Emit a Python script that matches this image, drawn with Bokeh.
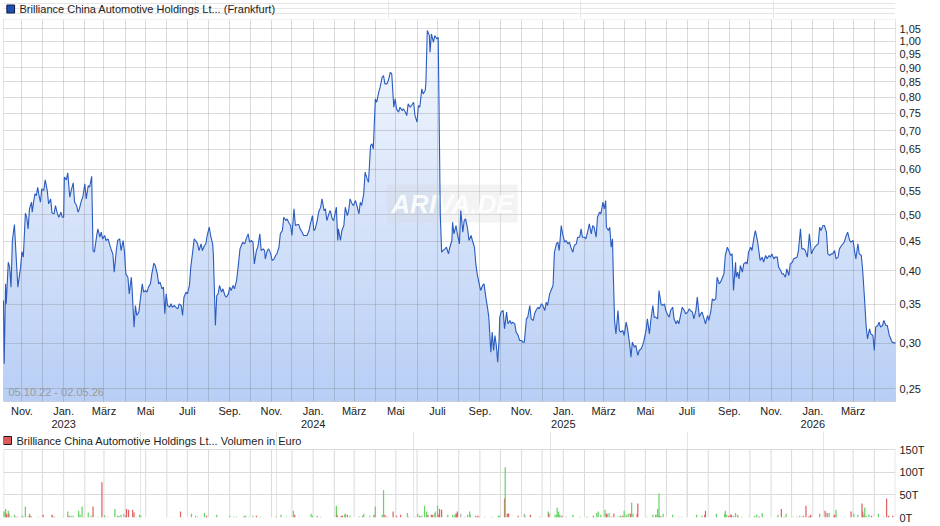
from datetime import date
import numpy as np
from bokeh.plotting import figure
from bokeh.models import (Range1d, FixedTicker, LinearAxis, CustomJSTickFormatter, Label)
from bokeh.layouts import column
from bokeh.embed import file_html
from bokeh.resources import INLINE
from bokeh.core.properties import value

START = date(2022, 10, 5)
END = date(2026, 5, 2)
N_DAYS = (END - START).days

# ---- price (EUR), x = days since 05.10.2022 ----
price_day = [
    0, 1, 3, 4, 7, 9, 11, 13, 16, 18, 21, 25, 27, 29, 32, 34, 36, 38, 41, 42, 44, 46, 48, 50, 52, 54, 56, 59,
    61, 64, 66, 69, 71, 74, 76, 79, 81, 84, 86, 88, 89, 92, 94, 97, 99, 102, 104, 107, 109, 111, 114, 116,
    119, 121, 124, 126, 129, 131, 133, 136, 138, 141, 143, 145, 148, 150, 153, 155, 158, 160, 162, 165, 167,
    170, 172, 175, 177, 179, 182, 184, 187, 188, 191, 193, 195, 198, 200, 203, 205, 208, 210, 212, 215, 217,
    220, 222, 225, 227, 229, 232, 234, 236, 238, 240, 243, 245, 247, 250, 252, 255, 257, 260, 262, 264, 267,
    269, 272, 274, 277, 279, 281, 284, 286, 289, 291, 294, 296, 298, 301, 303, 306, 307, 310, 312, 314, 316,
    319, 321, 324, 326, 329, 331, 333, 336, 338, 341, 343, 346, 348, 350, 353, 355, 358, 360, 363, 365, 367,
    370, 372, 375, 377, 380, 382, 383, 386, 388, 391, 393, 396, 398, 400, 403, 405, 408, 410, 413, 415, 417,
    420, 422, 425, 427, 430,
    432, 434, 437, 439, 444, 447, 449, 452, 454, 456, 459, 461, 464, 466, 469, 471, 473, 476, 478, 481, 483,
    486, 487, 489, 490, 493, 495, 498, 500, 503, 505, 507, 510, 512, 515, 517, 520, 522, 524, 527, 529, 532,
    534, 537, 539, 541, 544, 546, 549, 551, 554, 556, 558, 561, 563, 566, 568, 571, 573, 575, 578, 580, 583,
    585, 588, 590, 592, 595, 597, 600, 602, 605, 607, 609, 612, 614, 617, 618, 620, 623, 624, 626, 629, 631,
    634, 636, 639, 641, 643, 646, 648, 651, 653, 656, 657, 659, 662, 664, 667, 669, 672, 674, 676, 679, 681,
    684, 686, 689, 691, 693, 696, 698, 701, 703, 706, 708, 710, 713, 715, 717, 719, 721, 723, 725, 726, 728,
    731, 733, 736, 738, 741, 743, 745, 748, 750, 753, 755, 758, 760, 762, 765, 767, 770, 772, 775, 777, 779,
    782, 784, 787, 789, 792, 794, 796, 799, 801, 804, 806, 809, 811, 813, 816, 818, 821, 823, 826, 828, 830,
    833, 835, 838, 840, 843, 845, 847, 850, 852, 855, 857, 860, 862, 864, 867, 869,
    872, 874, 877, 879, 881, 882, 885, 887, 889, 891, 892, 894, 896, 899, 901, 903, 906, 908, 911, 913, 916,
    918, 920, 923, 925, 928, 930, 933, 935, 937, 940, 942, 945, 947, 950, 952, 954, 957, 959, 962, 964, 967,
    969, 971, 974, 976, 979, 981, 984, 986, 988, 991, 993, 996, 998, 1001, 1003, 1005, 1008, 1010, 1013,
    1015, 1018, 1020, 1022, 1025, 1027, 1030, 1032, 1035, 1037, 1039, 1042, 1044, 1047, 1049, 1052, 1054,
    1056, 1059, 1061, 1064, 1066, 1068, 1071, 1072, 1074, 1076, 1078, 1081, 1083, 1086, 1088, 1090, 1093,
    1095, 1098, 1100, 1103, 1105, 1107, 1110, 1112, 1115, 1117, 1120, 1122, 1124, 1127, 1129, 1132, 1134,
    1137, 1139, 1141, 1144, 1146, 1149, 1151, 1154, 1156, 1161, 1163, 1166, 1168, 1171, 1173, 1176, 1178,
    1179, 1182, 1184, 1187, 1189, 1192, 1194, 1196, 1199, 1201, 1204, 1206, 1209, 1211, 1213, 1216, 1218,
    1221, 1223, 1226, 1228, 1230, 1233, 1235, 1238, 1240, 1243, 1245, 1247, 1250, 1252, 1255, 1257, 1260,
    1262, 1264, 1267, 1269, 1272, 1274, 1276, 1279, 1281, 1283, 1286, 1288, 1291, 1293, 1296, 1298, 1300,
    1305,
]
price_eur = [
    0.3556, 0.2763, 0.3800, 0.3509, 0.4142, 0.4061, 0.3750, 0.4516, 0.4813, 0.4339, 0.3750, 0.4061, 0.4322,
    0.4226, 0.5036, 0.4956, 0.4731, 0.5123, 0.5261, 0.5056, 0.5261, 0.5439, 0.5403, 0.5585, 0.5403, 0.5261,
    0.5548, 0.5512, 0.5751, 0.5512, 0.5226, 0.5331, 0.5042, 0.5022, 0.5192, 0.5022, 0.4956, 0.5056, 0.4956,
    0.4956, 0.5814, 0.5751, 0.5913, 0.5367, 0.5512, 0.5682, 0.5261, 0.5192, 0.5056, 0.5123, 0.5296, 0.5367,
    0.5660, 0.5331, 0.5622, 0.5585, 0.5835, 0.4339, 0.4311, 0.4576, 0.4731, 0.4576, 0.4668, 0.4546, 0.4607,
    0.4516, 0.4546, 0.4456, 0.4339, 0.4282, 0.3981, 0.4339, 0.4516, 0.4546, 0.4339, 0.4516, 0.4311, 0.3954,
    0.3902, 0.3651, 0.3902, 0.3750, 0.3197, 0.3485, 0.3349, 0.3394, 0.3556, 0.3800, 0.3676, 0.3700, 0.3676,
    0.3750, 0.3800, 0.3954, 0.4126, 0.4088, 0.3954, 0.3800, 0.3825, 0.3725, 0.3750, 0.3372, 0.3651, 0.3485,
    0.3462, 0.3509, 0.3462, 0.3485, 0.3462, 0.3439, 0.3509, 0.3485, 0.3349, 0.3603, 0.3676, 0.3651, 0.3775,
    0.4061, 0.4339, 0.4546, 0.4516, 0.4456, 0.4339, 0.4456, 0.4339, 0.4427, 0.4456, 0.4607, 0.4762, 0.4607,
    0.4456, 0.4282, 0.3218, 0.3627, 0.3651, 0.3775, 0.3676, 0.3725, 0.3627, 0.3603, 0.3651, 0.3750, 0.3700,
    0.3775, 0.3725, 0.3851, 0.4034, 0.4368, 0.4427, 0.4486, 0.4456, 0.4546, 0.4637, 0.4486, 0.4516, 0.4486,
    0.4115, 0.4339, 0.4397, 0.4637, 0.4339, 0.4368, 0.4339, 0.4198, 0.4339, 0.4368, 0.4282, 0.4170, 0.4198,
    0.4254, 0.4282, 0.4397, 0.4637, 0.4699, 0.4956, 0.4890, 0.4923, 0.4858, 0.4794, 0.4607, 0.5123, 0.4794,
    0.4813,
    0.4813, 0.4731, 0.4668, 0.4607, 0.4607, 0.4699, 0.4826, 0.4989, 0.4699, 0.4731, 0.4890, 0.5056, 0.5157,
    0.5331, 0.5089, 0.5123, 0.4890, 0.5022, 0.5089, 0.4923, 0.4890, 0.5089, 0.5157, 0.4516, 0.4731, 0.4516,
    0.4699, 0.4794, 0.5157, 0.4989, 0.5089, 0.5331, 0.5226, 0.5192, 0.5296, 0.5192, 0.5022, 0.5261, 0.5192,
    0.5439, 0.5929, 0.5774, 0.5697, 0.6595, 0.6639, 0.6508, 0.7943, 0.7838, 0.8157, 0.8321, 0.8659, 0.8717,
    0.8432, 0.8432, 0.8545, 0.8833, 0.8775, 0.7683, 0.7943, 0.7632, 0.7532, 0.7683, 0.7582, 0.7632, 0.7532,
    0.7432, 0.7786, 0.7683, 0.7735, 0.7838, 0.7432, 0.7238, 0.7735, 0.7683, 0.8266, 0.8103, 0.8211, 0.8488,
    1.0429, 1.0223, 0.9566, 1.0291, 0.9955, 1.0223, 1.0088, 1.0155, 0.5022, 0.4311, 0.4339, 0.4368, 0.4397,
    0.4282, 0.4397, 0.4516, 0.4858, 0.4637, 0.4794, 0.4637, 0.4456, 0.5089, 0.4668, 0.4890, 0.4923, 0.4731,
    0.4516, 0.4607, 0.4516, 0.4397, 0.4115, 0.3954, 0.3800, 0.3700, 0.3775, 0.3800, 0.3579, 0.3462, 0.3327,
    0.2894, 0.3134, 0.2913, 0.3093, 0.2972, 0.2781, 0.3032, 0.3327, 0.3394, 0.3417, 0.3176, 0.3394, 0.3240,
    0.3283, 0.3240, 0.3261, 0.3240, 0.3134, 0.3093, 0.3032, 0.3032, 0.3012, 0.3012, 0.3305, 0.3327, 0.3485,
    0.3305, 0.3283, 0.3372, 0.3417, 0.3462, 0.3439, 0.3509, 0.3485, 0.3417, 0.3532, 0.3485, 0.3651, 0.3700,
    0.3775, 0.4311, 0.4456, 0.4486, 0.4339, 0.4794, 0.4637, 0.4486, 0.4516, 0.4456, 0.4486, 0.4397, 0.4311,
    0.4427, 0.4456, 0.4576, 0.4576, 0.4731, 0.4576, 0.4576, 0.4546, 0.4699, 0.4826, 0.4637, 0.4794, 0.4762,
    0.4576, 0.4956,
    0.5056, 0.5022, 0.5261, 0.5123, 0.5296, 0.4762, 0.4699, 0.4762, 0.4397, 0.4546, 0.4007, 0.3283, 0.3113,
    0.3417, 0.3155, 0.3134, 0.3155, 0.3093, 0.3261, 0.3176, 0.2992, 0.2837, 0.3012, 0.2952, 0.2972, 0.2856,
    0.2913, 0.2933, 0.2972, 0.3032, 0.3155, 0.3305, 0.3113, 0.3283, 0.3485, 0.3327, 0.3327, 0.3305, 0.3700,
    0.3509, 0.3485, 0.3509, 0.3417, 0.3372, 0.3327, 0.3417, 0.3462, 0.3305, 0.3240, 0.3283, 0.3240, 0.3372,
    0.3462, 0.3417, 0.3372, 0.3394, 0.3439, 0.3417, 0.3394, 0.3305, 0.3417, 0.3603, 0.3327, 0.3372, 0.3394,
    0.3305, 0.3240, 0.3349, 0.3283, 0.3417, 0.3579, 0.3556, 0.3579, 0.3902, 0.3800, 0.3825, 0.3902, 0.3954,
    0.4254, 0.4397, 0.4339, 0.4254, 0.4282, 0.3700, 0.4142, 0.3902, 0.3981, 0.3876, 0.4088, 0.3981, 0.4115,
    0.4142, 0.4115, 0.4311, 0.4397, 0.4339, 0.4576, 0.4699, 0.4516, 0.4339, 0.4170, 0.4226, 0.4142, 0.4254,
    0.4198, 0.4254, 0.4226, 0.4282, 0.4198, 0.4226, 0.4226, 0.4061, 0.4007, 0.3954, 0.3954, 0.3902, 0.4034,
    0.3928, 0.4115, 0.4142, 0.4198, 0.4226, 0.4339, 0.4731, 0.4368, 0.4368, 0.4339, 0.4226, 0.4486, 0.4637,
    0.4282, 0.4339, 0.4397, 0.4427, 0.4456, 0.4762, 0.4699, 0.4794, 0.4794, 0.4668, 0.4282, 0.4254, 0.4282,
    0.4282, 0.4339, 0.4198, 0.4226, 0.4368, 0.4427, 0.4456, 0.4486, 0.4607, 0.4668, 0.4516, 0.4486, 0.4516,
    0.4339, 0.4198, 0.4456, 0.4282, 0.4254, 0.4007, 0.3532, 0.3218, 0.3052, 0.3176, 0.3113, 0.3093, 0.2913,
    0.3197, 0.3218, 0.3261, 0.3197, 0.3218, 0.3283, 0.3218, 0.3218, 0.3093, 0.3052, 0.3012, 0.3000,
]

# ---- volume (thousand EUR); direction u = up day, d = down day, g = unchanged ----
vol_day = [
    0, 1, 3, 4, 5, 7, 8, 11, 16, 18, 21, 27, 29, 32, 36, 38, 39, 41, 51, 58, 71, 72, 75, 87, 94, 96, 99, 102,
    110, 112, 115, 118, 124, 128, 131, 138, 144, 148, 153, 163, 167, 169, 172, 176, 179, 180, 183, 189, 191,
    194, 199, 201, 244, 259, 275, 281, 284, 294, 297, 312, 331, 337, 341, 352, 354, 358, 365, 370, 376, 399,
    406, 414, 424, 426,
    450, 452, 459, 464, 487, 488, 494, 496, 499, 500, 503, 507, 520, 525, 527, 536, 542, 544, 554, 556, 558,
    561, 570, 575, 581, 591, 593, 602, 606, 609, 612, 616, 619, 621, 626, 628, 631, 632, 635, 637, 638, 641,
    650, 657, 660, 661, 663, 664, 669, 675, 679, 682, 683, 691, 694, 696, 704, 714, 724, 726, 733, 734, 737,
    739, 753, 762, 763, 771, 785, 797, 798, 807, 809, 810, 812, 813, 814, 817, 823, 833, 844, 853, 855, 863,
    868,
    870, 874, 880, 882, 883, 886, 889, 893, 899, 902, 903, 906, 908, 911, 914, 917, 919, 921, 927, 928, 941,
    950, 954, 956, 957, 959, 960, 962, 965, 979, 988, 992, 1014, 1022, 1026, 1027, 1043, 1055, 1056, 1058,
    1061, 1064, 1065, 1068, 1071, 1074, 1075, 1080, 1091, 1099, 1102, 1105, 1106, 1110, 1133, 1138, 1142,
    1145, 1155, 1161, 1165, 1170, 1174, 1178, 1180, 1181, 1194, 1202, 1205, 1208, 1215, 1216, 1218, 1231,
    1240, 1244, 1250, 1256, 1257, 1259, 1260, 1262, 1266, 1270, 1280, 1288, 1292, 1295, 1301,
]
vol_teur = [
    13, 13, 19, 9, 6, 15, 9, 2, 6, 2, 1.5, 4, 1.5, 24, 2, 8, 4, 2, 1.5, 6, 6, 4, 1.5, 1.5, 13, 4, 4, 4,
    15, 6, 24, 1.5, 11, 4, 24, 1.5, 78, 5, 1.5, 19, 4, 4, 6, 8, 4, 19, 17, 17, 11,
    1.5, 6, 4, 1, 13, 8, 4, 1.5, 10, 4, 6, 4, 1.5, 1.5, 4, 4, 1.5, 4, 4, 1.5, 1.5,
    6, 1.5, 15, 6,
    8, 4, 4, 1.5, 26, 6, 4, 4, 6, 8, 6, 4, 3, 4, 8, 4, 6, 24, 6, 60, 6,
    2, 13, 4, 6, 10, 1.5, 1.5, 8, 4, 4, 26, 13, 6, 6, 6, 10, 13, 26, 7, 19, 17,
    6, 6, 4, 8, 9, 13, 8, 1.5, 6, 13, 6, 4, 4, 1.5, 1.5, 1.5, 4, 4, 42, 111, 9,
    9, 4, 8, 4, 6, 1.5, 13, 9, 6, 6, 22, 13, 6, 6, 4, 1.5, 6, 1.5, 1.5, 1.5, 4,
    10,
    13, 6, 17, 8, 8, 10, 2, 9, 1.5, 4, 4, 4, 15, 6, 8, 9, 33, 8, 8, 31, 1.5,
    6, 6, 6, 19, 53, 4, 2, 8, 6, 1.5, 1.5, 6, 4, 6, 15, 8, 8, 15, 6,
    4, 6, 6, 4, 10, 6, 1.5, 1.5, 1.5, 4, 6, 1.5, 1.5, 10, 6, 19, 1.5,
    8, 1.5, 1.5, 4, 4, 26, 2, 4, 6, 8, 15, 10, 10, 4, 6, 17, 1.5,
    13, 8, 6, 31, 13, 6, 22, 4, 6, 4, 8, 1.5, 42, 4, 4,
]
vol_dir = list(
    "duudduduud" "duduuuddud" "dduuuduuuu" "uduudududu" "uuugdddddu" "uuuduududu" "uuuuuugdud" "uuud"
    "uuuuuddduu" "duguuuduuu" "ddddduduud" "uuudddugud" "dduuuuddgu" "uuuddduuuu" "dudddguddu"
    "duuuuuuddu" "uuudu"
    "uuuddudduu" "uduuuduudd" "uuuuuudduu" "uuuudduuuu" "ddduuuduuu" "udduudduud" "uddddduddu"
    "dduuduuddd" "uuuduuddd"
)

# ---- axis ticks / labels ----
price_ticks = [0.25, 0.30, 0.35, 0.40, 0.45, 0.50, 0.55, 0.60, 0.65, 0.70, 0.75, 0.80, 0.85, 0.90,
               0.95, 1.00, 1.05]
vol_ticks = [0, 50, 100, 150]
month_names = {1: "Jan.", 3: "März", 5: "Mai", 7: "Juli", 9: "Sep.", 11: "Nov."}
years = [2023, 2024, 2025, 2026]
PRICE_LEGEND = "Brilliance China Automotive Holdings Lt... (Frankfurt)"
VOL_LEGEND = "Brilliance China Automotive Holdings Lt... Volumen in Euro"

FONT = "Liberation Sans"
TXT = "#222222"
LINE = "#2a5bbf"
TOP_RGB = (247, 250, 255)
BOT_RGB = (184, 206, 245)
COLORS = {"u": "#66d366", "d": "#e06262", "g": "#b4b4b4"}
GRID = "#dadada"

LEFT, RIGHT = 3, 29
FRAME_W = 895
W = LEFT + FRAME_W + RIGHT
LEG1_H = 18
PRICE_FRAME_H = 382
VOL_LEG_H = 18
VOL_FRAME_H = 68

def days(y, m):
    return (date(y, m, 1) - START).days

all_months = []
y, m = 2022, 11
while (y, m) <= (2026, 4):
    all_months.append((y, m))
    m += 1
    if m > 12:
        m, y = 1, y + 1
label_days = [days(y, m) for (y, m) in all_months if m in month_names]
label_txt = [month_names[m] for (y, m) in all_months if m in month_names]
minor_days = [days(y, m) for (y, m) in all_months if m not in month_names]
all_days = [days(y, m) for (y, m) in all_months]
year_days = [days(yr, 1) for yr in years]
year_txt = [str(yr) for yr in years]

LOOKUP = "const i = pos.indexOf(tick); return i < 0 ? '' : names[i];"

def style_axis(ax, standoff):
    ax.axis_line_color = None
    ax.major_tick_line_color = None
    ax.minor_tick_line_color = None
    ax.major_tick_out = 0
    ax.major_tick_in = 0
    ax.minor_tick_out = 0
    ax.minor_tick_in = 0
    ax.major_label_standoff = standoff
    ax.major_label_text_font = FONT
    ax.major_label_text_font_size = "11px"
    ax.major_label_text_color = TXT

# ================= legend strip above the price chart =================
lg = figure(width=W, height=LEG1_H, title=None, x_range=Range1d(0, W), y_range=Range1d(0, LEG1_H),
            x_axis_location=None, y_axis_location=None, toolbar_location=None,
            output_backend="svg", min_border=0, outline_line_color=None,
            background_fill_color="white", border_fill_color="white")
lg.quad(left=[LEFT + 0.5], right=[LEFT + 8.5], bottom=[LEG1_H - 12.5], top=[LEG1_H - 4.5],
        fill_color="#1f4fb4", line_color="#0c1a40")
lg.add_layout(Label(x=LEFT + 13, y=LEG1_H - 8.5, x_units="screen", y_units="screen", text=PRICE_LEGEND,
                    text_font=FONT, text_font_size="11px", text_color=TXT, text_baseline="middle"))

# ================= price chart =================
Y_MIN, Y_MAX = 0.2377, 1.09
BOT_P = 30
p = figure(width=W, height=1 + PRICE_FRAME_H + BOT_P, title=None,
           x_range=Range1d(0, N_DAYS), y_range=Range1d(Y_MIN, Y_MAX),
           y_axis_type="log", y_axis_location="right",
           output_backend="svg", toolbar_location=None,
           min_border_left=LEFT, min_border_right=RIGHT, min_border_top=1, min_border_bottom=BOT_P,
           outline_line_color="#cfcfcf", background_fill_color="white", border_fill_color="white")

nb = 64
edges = np.geomspace(Y_MIN, Y_MAX * 1.01, nb + 1)
band_cols = []
for i in range(nb):
    t = (i + 0.5) / nb
    r, g, b = [int(round(lo + (hi - lo) * t)) for lo, hi in zip(BOT_RGB, TOP_RGB)]
    band_cols.append(f"#{r:02x}{g:02x}{b:02x}")
p.quad(left=0, right=N_DAYS, bottom=list(edges[:-1]), top=list(edges[1:] * 1.003),
       fill_color=band_cols, line_color=None)
p.varea(x=price_day, y1=price_eur, y2=3.0, fill_color="white")
p.line(price_day, price_eur, line_color=LINE, line_width=1.1, level="overlay")

p.xgrid.ticker = FixedTicker(ticks=label_days, minor_ticks=minor_days)
p.ygrid.ticker = FixedTicker(ticks=price_ticks)
for g in list(p.xgrid) + list(p.ygrid):
    g.level = "guide"
    g.grid_line_color = "#5a5a5a"
    g.grid_line_alpha = 0.22
p.xgrid.minor_grid_line_color = "#5a5a5a"
p.xgrid.minor_grid_line_alpha = 0.22

xa = p.xaxis[0]
xa.ticker = FixedTicker(ticks=label_days)
xa.formatter = CustomJSTickFormatter(args=dict(pos=label_days, names=label_txt), code=LOOKUP)
style_axis(xa, 3)

ya = LinearAxis(ticker=FixedTicker(ticks=year_days),
                formatter=CustomJSTickFormatter(args=dict(pos=year_days, names=year_txt), code=LOOKUP))
style_axis(ya, 0)
p.add_layout(ya, "below")

ra = p.yaxis[0]
ra.ticker = FixedTicker(ticks=price_ticks)
ra.formatter = CustomJSTickFormatter(code="return tick.toFixed(2).replace('.', ',');")
style_axis(ra, 4)

p.add_layout(Label(x=5, y=4, x_units="screen", y_units="screen", text="05.10.22 - 02.05.26",
                   text_font=FONT, text_font_size="11px", text_color="#9a9a9a",
                   text_baseline="bottom"))
p.add_layout(Label(x=449, y=198, x_units="screen", y_units="screen", text="ARIVA.DE",
                   text_font=FONT, text_font_style="bold italic", text_font_size="26px",
                   text_color="white", text_alpha=0.85, text_align="center", text_baseline="middle",
                   background_fill_color="#d4d4d4", background_fill_alpha=0.28, padding=4))

# ================= volume chart (frame also hosts its legend row) =================
BOT_V = 6
vol_top = 150 * (VOL_FRAME_H + VOL_LEG_H) / VOL_FRAME_H
v = figure(width=W, height=VOL_LEG_H + VOL_FRAME_H + BOT_V, title=None,
           x_range=p.x_range, y_range=Range1d(0, vol_top),
           y_axis_location="right", x_axis_location=None,
           output_backend="svg", toolbar_location=None,
           min_border_left=LEFT, min_border_right=RIGHT, min_border_top=0, min_border_bottom=BOT_V,
           outline_line_color=None, background_fill_color="white", border_fill_color="white")
v.ygrid.ticker = FixedTicker(ticks=vol_ticks)
v.ygrid.grid_line_color = GRID
v.segment(x0=all_days + [0.3, N_DAYS - 0.3], x1=all_days + [0.3, N_DAYS - 0.3],
          y0=0, y1=vol_ticks[-1], line_color=GRID, line_width=1)
va = v.yaxis[0]
va.ticker = FixedTicker(ticks=vol_ticks)
va.formatter = CustomJSTickFormatter(code="return tick.toFixed(0) + 'T';")
style_axis(va, 4)

v.vbar(x=vol_day, top=vol_teur, width=1.8, fill_color=[COLORS[c] for c in vol_dir],
       line_color=None)

# legend swatch + label in the row above the 150T line
sq_x = 4 * N_DAYS / FRAME_W
sq_y = (VOL_FRAME_H + 9) * vol_ticks[-1] / VOL_FRAME_H
v.scatter(x=[sq_x], y=[sq_y], marker="square", size=8, fill_color="#dd5a5a", line_color="#1a1a1a")
v.add_layout(Label(x=13, y=VOL_FRAME_H + 9, x_units="screen", y_units="screen", text=VOL_LEGEND,
                   text_font=FONT, text_font_size="11px", text_color=TXT, text_baseline="middle"))

layout = column(lg, p, v, spacing=0)
open("out.html", "w").write(file_html(layout, INLINE))
